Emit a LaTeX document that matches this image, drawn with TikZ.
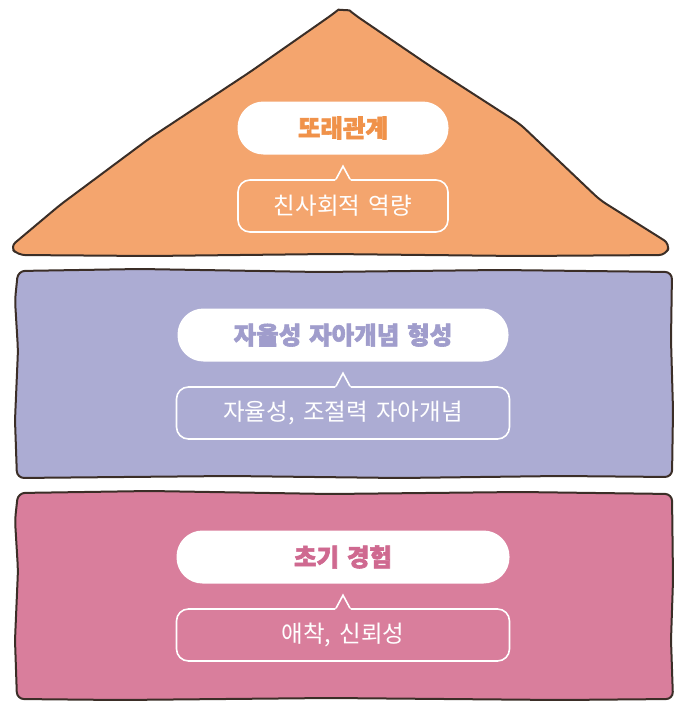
\documentclass[tikz,border=0pt]{standalone}
\usepackage{fontspec}
\usepackage{tikz}
\usetikzlibrary{positioning}
\usetikzlibrary{calc}
\newfontfamily\kr[WordSpace=1.6]{Noto Sans CJK KR}
\newfontfamily\krheavy[FakeBold=2.4, WordSpace=1.4]{Noto Sans CJK KR}

\definecolor{outline}{HTML}{3B2E27}
\definecolor{peerfill}{HTML}{F4A56E}
\definecolor{peertext}{HTML}{F0924A}
\definecolor{selffill}{HTML}{ACACD3}
\definecolor{selftext}{HTML}{A09DCC}
\definecolor{earlyfill}{HTML}{D97E9C}
\definecolor{earlytext}{HTML}{CF6990}

\begin{document}
\begin{tikzpicture}[x=1pt, y=-1pt, node distance=78pt]

% Define styles for different elements
\tikzstyle{layer} = [draw=outline, line width=2pt, line join=round, rounded corners=7pt]
\tikzstyle{pill} = [rectangle, rounded corners=26pt, minimum height=53pt, fill=white, text centered, font=\krheavy\bfseries\fontsize{24.5}{28}\selectfont]
\tikzstyle{callout} = [rectangle, rounded corners=12pt, minimum height=52pt, draw=white, line width=1.6pt, text=white, text centered, font=\kr\fontsize{23.5}{27}\selectfont]
\tikzstyle{notch} = [draw=white, line width=1.6pt, line join=miter]

\useasboundingbox (0,0) rectangle (675,701);

% Draw the layers
\draw [layer, fill=peerfill] (333,14) .. controls (338,10) and (349,10) .. (355,15)
  -- (430,66) -- (520,124) -- (600,200) -- (670,244) -- (666,255)
  -- (520,256) -- (330,254) -- (150,256) -- (18,255) -- (10,247)
  -- (60,205) -- (150,138) -- (250,72) -- cycle;
\draw [layer, fill=selffill] (18,271) -- (140,269) -- (320,272) -- (500,270) -- (672,272)
  -- (671,340) -- (673,410) -- (672,477)
  -- (560,476) -- (400,478) -- (230,476) -- (17,478)
  -- (15,420) -- (18,350) -- (15,300) -- cycle;
\draw [layer, fill=earlyfill] (18,493) -- (150,491) -- (330,494) -- (520,492) -- (672,494)
  -- (673,580) -- (671,640) -- (673,699)
  -- (560,700) -- (330,698) -- (120,700) -- (17,699)
  -- (15,640) -- (18,570) -- (15,520) -- cycle;

% Draw the headings
\node (peer) [pill, minimum width=211pt, text=peertext] at (343,128) {또래관계};
\node (self) [pill, minimum width=331pt, text=selftext] at (343,335) {자율성 자아개념 형성};
\node (early) [pill, minimum width=333pt, text=earlytext] at (343,557) {초기 경험};

% Draw the callouts
\node (peerbox) [callout, minimum width=210pt, below of=peer] {친사회적 역량};
\node (selfbox) [callout, minimum width=333pt, below of=self] {자율성, 조절력 자아개념};
\node (earlybox) [callout, minimum width=333pt, below of=early] {애착, 신뢰성};

% Draw the notches
\fill [peerfill] ($(peerbox.north)+(-8,2)$) -- ($(peerbox.north)+(0,-13)$) -- ($(peerbox.north)+(8,2)$) -- cycle;
\draw [notch] ($(peerbox.north)+(-7,0)$) -- ($(peerbox.north)+(0,-13)$) -- ($(peerbox.north)+(7,0)$);
\fill [selffill] ($(selfbox.north)+(-8,2)$) -- ($(selfbox.north)+(0,-13)$) -- ($(selfbox.north)+(8,2)$) -- cycle;
\draw [notch] ($(selfbox.north)+(-7,0)$) -- ($(selfbox.north)+(0,-13)$) -- ($(selfbox.north)+(7,0)$);
\fill [earlyfill] ($(earlybox.north)+(-8,2)$) -- ($(earlybox.north)+(0,-13)$) -- ($(earlybox.north)+(8,2)$) -- cycle;
\draw [notch] ($(earlybox.north)+(-7,0)$) -- ($(earlybox.north)+(0,-13)$) -- ($(earlybox.north)+(7,0)$);
\end{tikzpicture}
\end{document}
